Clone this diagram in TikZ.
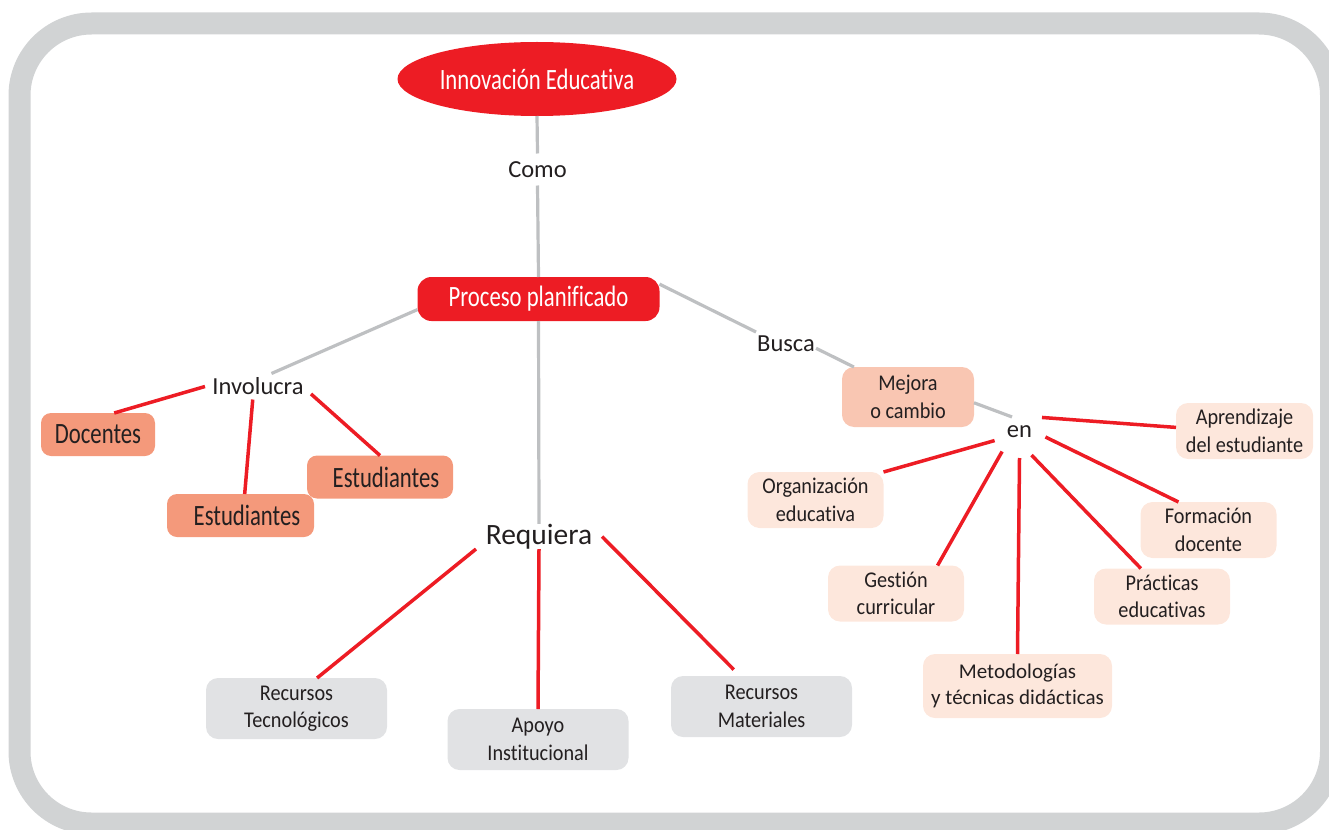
\documentclass[tikz,border=0pt]{standalone}
\usepackage{fontspec}
\setmainfont{Carlito}[Ligatures=NoCommon]
\newfontfamily\condfont{Carlito}[FakeStretch=0.77, Ligatures=NoCommon]
\newfontfamily\narrowfont{Carlito}[FakeStretch=0.9, Ligatures=NoCommon]
\usetikzlibrary{shapes,positioning}

\definecolor{innovred}{RGB}{237,28,36}
\definecolor{salmon}{RGB}{244,153,123}
\definecolor{mejorapink}{RGB}{249,198,178}
\definecolor{peach}{RGB}{253,231,220}
\definecolor{boxgray}{RGB}{225,226,228}
\definecolor{linegray}{RGB}{190,192,194}
\definecolor{framegray}{RGB}{209,211,212}
\definecolor{textdark}{RGB}{35,31,32}

\begin{document}
\begin{tikzpicture} [x=1pt, y=-1pt,
  every node/.style={text=textdark, inner sep=0pt, outer sep=0pt},
  bigred/.style={fill=innovred, text=white, font=\condfont\fontsize{29.5}{32}\selectfont},
  salmonbox/.style={rectangle, rounded corners=10pt, fill=salmon, minimum height=43, font=\condfont\fontsize{29.5}{32}\selectfont},
  smallbox/.style={rectangle, rounded corners=12pt, align=center, minimum width=136, minimum height=56, font=\narrowfont\fontsize{22.5}{27.5}\selectfont},
  peachbox/.style={smallbox, fill=peach},
  graybox/.style={smallbox, fill=boxgray, minimum width=181, minimum height=61},
  linkword/.style={font=\fontsize{24.5}{28}\selectfont},
  redline/.style={draw=innovred, color=innovred, line width=3.5},
  grayline/.style={draw=linegray, color=linegray, line width=3.2}]
\useasboundingbox (0,0) rectangle (1329,829);
\draw[framegray, line width=22, rounded corners=72] (19.5,23.5) rectangle (1331,823.5);

\node[bigred, ellipse, minimum width=279, minimum height=74] (innov) at (537,79) {Innovación Educativa};
\node[linkword, minimum height=32] (como) at (537.5,169.5) {Como};
\node[bigred, rectangle, rounded corners=14pt, minimum width=242, minimum height=44] (proc) at (538.5,299) {Proceso planificado};

% involucra
\node[linkword, minimum width=106, minimum height=26] (invol) at (258,386.5) {Involucra};
\node[salmonbox, minimum width=114] (doc) at (98,434.5) {Docentes};
\node[salmonbox, minimum width=147] (est1) at (240.5,515.5) {\hspace*{13pt}Estudiantes};
\node[salmonbox, minimum width=146] (est2) at (380,477) {\hspace*{12pt}Estudiantes};

% requiera
\node[font=\fontsize{29.5}{32}\selectfont, minimum width=126, minimum height=24] (req) at (539,536.5) {Requiera};
\node[graybox] (rectec) at (296.5,708.5) {Recursos\\Tecnológicos};
\node[graybox] (apoyo) at (538,739.5) {Apoyo\\Institucional};
\node[graybox] (recmat) at (761.5,706.5) {Recursos\\Materiales};

% busca
\node[linkword, minimum width=60, minimum height=24] (busca) at (786,343.5) {Busca};
\node[smallbox, fill=mejorapink, minimum width=132, minimum height=60] (mejora) at (908,397) {Mejora\\o cambio};
\node[linkword, circle, minimum size=53] (en) at (1019.5,431.5) {en};
\node[peachbox, minimum width=137] (aprend) at (1244.5,431) {Aprendizaje\\del estudiante};
\node[peachbox] (org) at (815.5,500) {Organización\\educativa};
\node[peachbox] (form) at (1208.5,530) {Formación\\docente};
\node[peachbox] (gest) at (896,593.5) {Gestión\\curricular};
\node[peachbox] (prac) at (1162,596.5) {Prácticas\\educativas};
\node[peachbox, minimum width=189, minimum height=64, font=\fontsize{21}{26}\selectfont] (metod) at (1017.5,686) {Metodologías\\y técnicas didácticas};

\path[grayline] (innov.south) edge (como.north)
          (como.south) edge (proc.north)
          (proc.south) edge (req.north)
          (proc.185) edge (invol.44)
          (proc.7) edge (busca.159)
          (busca.-9) edge (mejora.151)
          (mejora.-5) edge[shorten >=-12pt] (en.135);
\path[redline] (invol.west) edge (doc.53)
          (invol.248) edge (est1.79)
          (invol.-8) edge (est2.north)
          (req.south west) edge (rectec.56)
          (req.south) edge (apoyo.north)
          (req.east) edge[shorten >=9pt] (recmat.125)
          (en.32) edge (aprend.177)
          (en.200) edge (org.north east)
          (en.229) edge (gest.34)
          (en.270) edge (metod.north)
          (en.297) edge (prac.127)
          (en.-12) edge (form.137);
\end{tikzpicture}
\end{document}
